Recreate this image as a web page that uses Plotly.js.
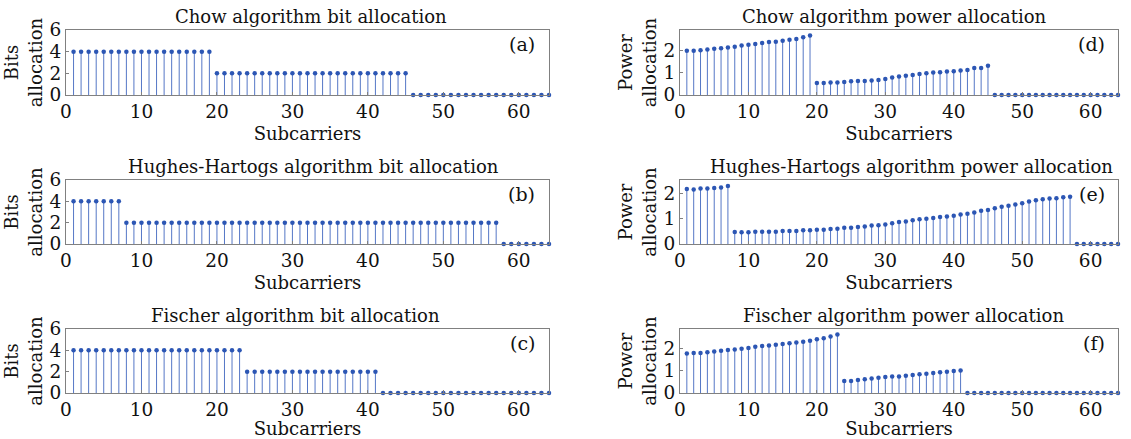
<!DOCTYPE html>
<html>
<head>
<meta charset="utf-8">
<script src="https://cdn.plot.ly/plotly-3.0.1.min.js"></script>
<style>html,body{margin:0;padding:0;background:#fff;}#chart{width:1131px;height:439px;}</style>
</head>
<body>
<div id="chart"></div>
<script>
const subcarriers = [1,2,3,4,5,6,7,8,9,10,11,12,13,14,15,16,17,18,19,20,21,22,23,24,25,26,27,28,29,30,31,32,33,34,35,36,37,38,39,40,41,42,43,44,45,46,47,48,49,50,51,52,53,54,55,56,57,58,59,60,61,62,63,64];

const chowBits = [4,4,4,4,4,4,4,4,4,4,4,4,4,4,4,4,4,4,4,
  2,2,2,2,2,2,2,2,2,2,2,2,2,2,2,2,2,2,2,2,2,2,2,2,2,2,
  0,0,0,0,0,0,0,0,0,0,0,0,0,0,0,0,0,0,0];
const hhBits = [4,4,4,4,4,4,4,
  2,2,2,2,2,2,2,2,2,2,2,2,2,2,2,2,2,2,2,2,2,2,2,2,2,2,2,2,2,2,2,2,2,2,2,2,2,2,2,2,2,2,2,2,2,2,2,2,2,2,
  0,0,0,0,0,0,0];
const fischerBits = [4,4,4,4,4,4,4,4,4,4,4,4,4,4,4,4,4,4,4,4,4,4,4,
  2,2,2,2,2,2,2,2,2,2,2,2,2,2,2,2,2,2,
  0,0,0,0,0,0,0,0,0,0,0,0,0,0,0,0,0,0,0,0,0,0,0];

const chowPower = [1.97,1.97,2.0,2.03,2.06,2.09,2.12,2.15,2.21,2.24,2.27,2.32,2.36,2.38,2.42,2.47,2.5,2.58,2.65,
  0.53,0.53,0.56,0.56,0.58,0.61,0.62,0.62,0.65,0.67,0.71,0.78,0.83,0.86,0.89,0.94,0.97,1.0,1.02,1.05,1.06,1.09,1.12,1.2,1.21,1.3,
  0,0,0,0,0,0,0,0,0,0,0,0,0,0,0,0,0,0,0];
const hhPower = [2.19,2.17,2.21,2.21,2.23,2.25,2.31,
  0.48,0.47,0.47,0.49,0.49,0.49,0.49,0.52,0.52,0.52,0.55,0.55,0.57,0.57,0.60,0.61,0.65,0.65,0.68,0.70,0.74,0.75,0.78,0.83,
  0.88,0.90,0.95,0.99,1.01,1.04,1.08,1.10,1.13,1.18,1.21,1.26,1.32,1.35,1.42,1.48,1.52,1.57,1.62,1.69,1.74,1.78,1.81,1.82,1.86,1.88,
  0,0,0,0,0,0,0];
const fischerPower = [1.76,1.78,1.78,1.81,1.85,1.88,1.91,1.94,1.97,2.0,2.06,2.09,2.12,2.15,2.18,2.21,2.25,2.28,2.33,2.39,2.44,2.52,2.61,
  0.53,0.53,0.58,0.61,0.65,0.68,0.71,0.74,0.74,0.77,0.80,0.83,0.86,0.89,0.92,0.95,0.98,1.0,
  0,0,0,0,0,0,0,0,0,0,0,0,0,0,0,0,0,0,0,0,0,0,0];

const panelTitles = ["Chow algorithm bit allocation","Hughes-Hartogs algorithm bit allocation","Fischer algorithm bit allocation",
  "Chow algorithm power allocation","Hughes-Hartogs algorithm power allocation","Fischer algorithm power allocation"];
const panelLabels = ["(a)","(b)","(c)","(d)","(e)","(f)"];
const yTitles = ["Bits<br>allocation","Bits<br>allocation","Bits<br>allocation","Power<br>allocation","Power<br>allocation","Power<br>allocation"];
const xTitle = "Subcarriers";
const bitTicks = [0,2,4,6];
const powerTicks = [0,1,2];
const xTicks = [0,10,20,30,40,50,60];

const series = [chowBits, hhBits, fischerBits, chowPower, hhPower, fischerPower];
const yRanges = [[0,6],[0,6],[0,6],[0,2.9],[0,2.55],[0,2.85]];

const FONT = "DejaVu Serif";
const W = 1131, H = 439;
const colX = [[66,549],[680,1118]];
const rowY = [[30,95],[180,244],[329,393]];
const titleCx = [311,313,295,894,911,903];
const stemColor = "#5577c6";
const dotColor = "#2c56b4";
const axisColor = "#808080";
const TXT = "#111";

const traces = [];
const layout = {
  width: W, height: H,
  margin: {l:0, r:0, t:0, b:0},
  paper_bgcolor: "#fff", plot_bgcolor: "#fff",
  showlegend: false,
  font: {family: FONT, size: 18, color: TXT},
  annotations: []
};

for (let i = 0; i < 6; i++) {
  const col = i < 3 ? 0 : 1;
  const row = i % 3;
  const sfx = i === 0 ? "" : String(i + 1);
  const xa = "x" + sfx, ya = "y" + sfx;
  traces.push({
    type: "scatter", mode: "markers",
    x: subcarriers, y: series[i],
    xaxis: xa, yaxis: ya,
    cliponaxis: false,
    marker: {color: dotColor, size: 4.5},
    error_y: {type: "data", symmetric: false, array: series[i].map(() => 0), arrayminus: series[i],
      width: 0, thickness: 1, color: stemColor},
    hoverinfo: "x+y"
  });
  const xd = [colX[col][0] / W, colX[col][1] / W];
  const yd = [1 - rowY[row][1] / H, 1 - rowY[row][0] / H];
  layout["xaxis" + sfx] = {
    domain: xd, anchor: ya, range: [0, 64],
    tickvals: xTicks, ticks: "inside", ticklen: 3, tickcolor: axisColor,
    showline: true, linecolor: axisColor, linewidth: 1, mirror: true,
    showgrid: false, zeroline: false,
    tickfont: {family: FONT, size: 18.5, color: TXT},
    title: {text: xTitle, font: {family: FONT, size: 18, color: TXT}, standoff: 6}
  };
  layout["yaxis" + sfx] = {
    domain: yd, anchor: xa, range: yRanges[i],
    tickvals: col === 0 ? bitTicks : powerTicks, ticks: "inside", ticklen: 3, tickcolor: axisColor,
    showline: true, linecolor: axisColor, linewidth: 1, mirror: true,
    showgrid: false, zeroline: false,
    tickfont: {family: FONT, size: 18.5, color: TXT},
    title: {text: yTitles[i], font: {family: FONT, size: 18, color: TXT}, standoff: 2}
  };
  layout.annotations.push({
    text: panelTitles[i], xref: "paper", yref: "paper",
    x: titleCx[i] / W, y: yd[1], xanchor: "center", yanchor: "bottom", yshift: 1,
    showarrow: false, font: {family: FONT, size: 18, color: TXT}
  });
  layout.annotations.push({
    text: panelLabels[i], xref: xa + " domain", yref: ya + " domain",
    x: 0.975, y: 0.78, xanchor: "right", yanchor: "middle",
    showarrow: false, font: {family: FONT, size: 19, color: TXT}
  });
}

Plotly.newPlot("chart", traces, layout, {staticPlot: true, displayModeBar: false});
</script>
</body>
</html>
